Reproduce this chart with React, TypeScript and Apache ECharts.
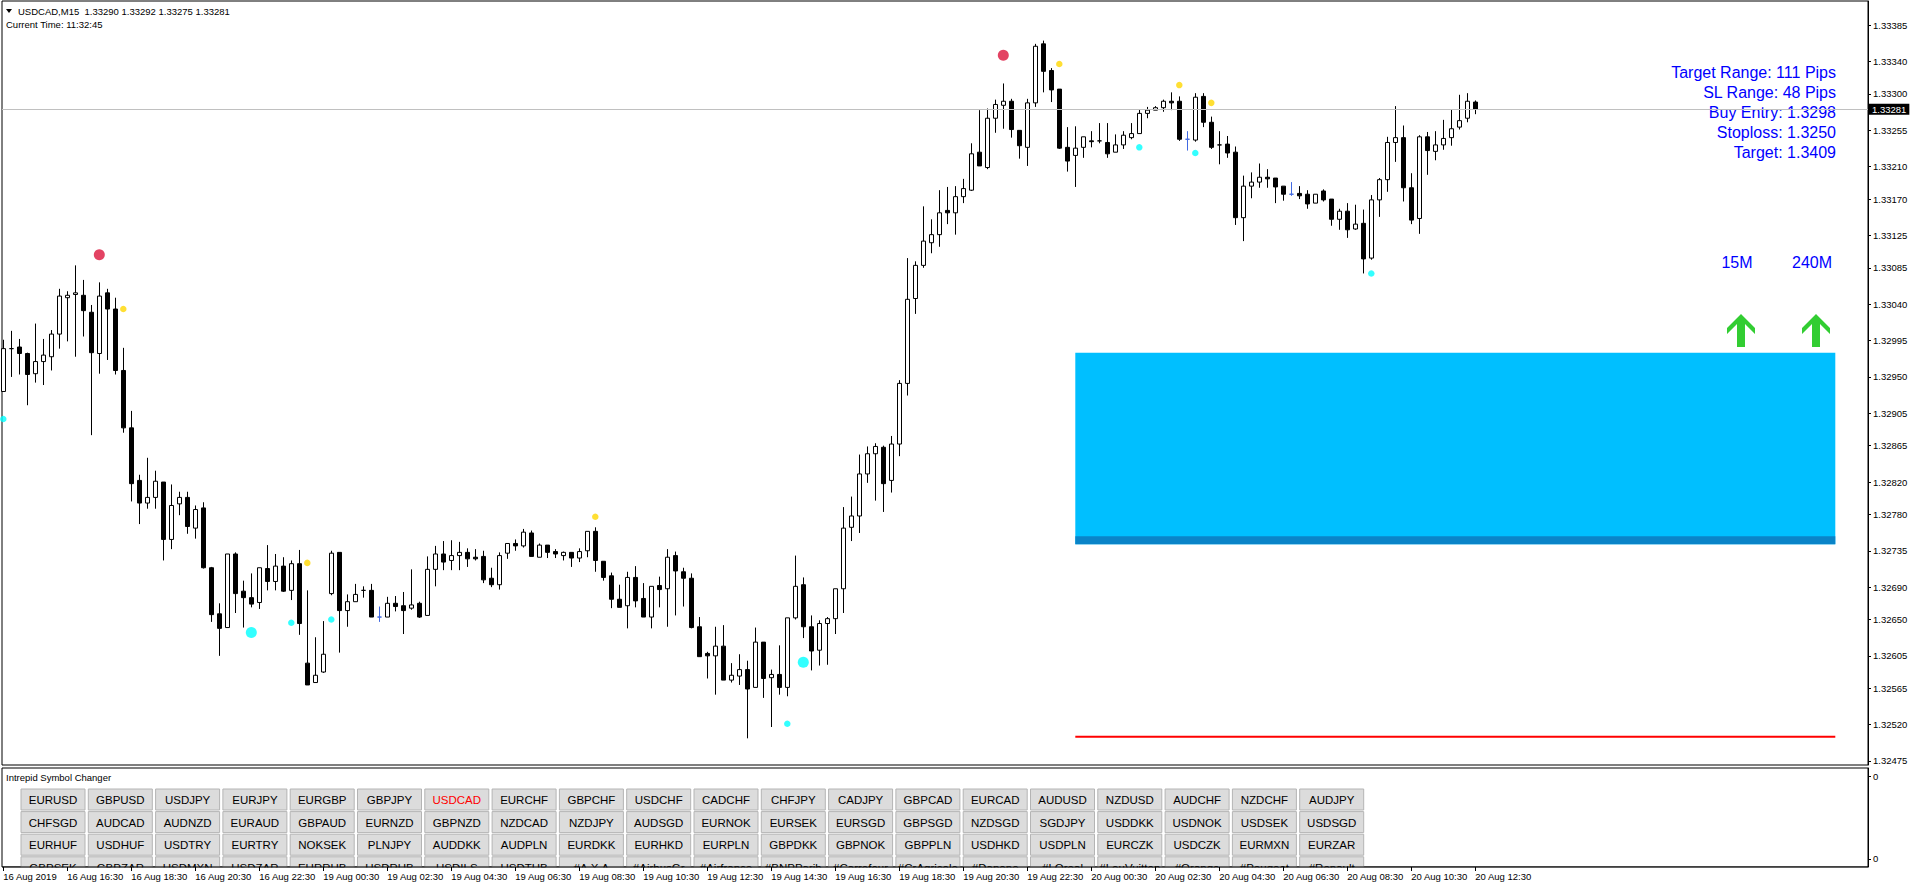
import React, { useEffect, useRef } from "react";
import * as echarts from "echarts";

// ---------------- data ----------------
const SYMBOL = "USDCAD";
const TIMEFRAME = "M15";
const CURRENT_TIME = "11:32:45";

const opens = [
  1.32932, 1.32985, 1.32987, 1.32979, 1.32954, 1.32969, 1.32975, 1.33003, 1.33048, 1.33052,
  1.33051, 1.3303, 1.32979, 1.33054, 1.33034, 1.32958, 1.32887, 1.32822, 1.32794, 1.32801,
  1.3282, 1.32749, 1.32793, 1.32801, 1.32763, 1.32788, 1.32714, 1.32657, 1.3264, 1.32731,
  1.32685, 1.32677, 1.32671, 1.32713, 1.32697, 1.32716, 1.32686, 1.32719, 1.32596, 1.32572,
  1.32585, 1.32682, 1.32733, 1.32661, 1.32672, 1.32686, 1.32686, 1.32653, 1.32653, 1.3267,
  1.32667, 1.32664, 1.3267, 1.32655, 1.32712, 1.32731, 1.32723, 1.32729, 1.32733, 1.32727,
  1.32728, 1.32701, 1.32693, 1.32732, 1.32744, 1.32741, 1.32757, 1.32727, 1.32742, 1.32734,
  1.32729, 1.32733, 1.32726, 1.32735, 1.32759, 1.32722, 1.32704, 1.32675, 1.32667, 1.32702,
  1.32676, 1.32653, 1.32692, 1.32688, 1.32729, 1.32709, 1.32701, 1.32641, 1.32608, 1.32605,
  1.32617, 1.32575, 1.3258, 1.32588, 1.32566, 1.32622, 1.32578, 1.32582, 1.32566, 1.32652,
  1.32693, 1.32641, 1.32612, 1.32645, 1.32651, 1.32688, 1.32764, 1.32778, 1.3283, 1.32855,
  1.32863, 1.32822, 1.32867, 1.32942, 1.33047, 1.33088, 1.33116, 1.33126, 1.33156, 1.33153,
  1.33173, 1.33181, 1.33228, 1.33209, 1.3327, 1.33286, 1.33291, 1.33255, 1.33234, 1.33289,
  1.33362, 1.33329, 1.33306, 1.33234, 1.33224, 1.33234, 1.33242, 1.33242, 1.3324, 1.33228,
  1.33237, 1.33246, 1.33251, 1.33276, 1.3328, 1.33283, 1.33291, 1.33291, 1.33244, 1.33243,
  1.33297, 1.33265, 1.33237, 1.33238, 1.33228, 1.33147, 1.33186, 1.33191, 1.33197, 1.33196,
  1.33186, 1.33176, 1.33177, 1.33176, 1.33165, 1.3318, 1.3317, 1.33145, 1.33155, 1.33133,
  1.3314, 1.33097, 1.33169, 1.33194, 1.3324, 1.33246, 1.33184, 1.33146, 1.33247, 1.33229,
  1.33237, 1.33246, 1.33259, 1.3327, 1.3329,
];

const highs = [
  1.32996, 1.33007, 1.32997, 1.3298, 1.33016, 1.32997, 1.33008, 1.33059, 1.33056, 1.33088,
  1.3307, 1.33039, 1.33067, 1.33059, 1.33048, 1.32986, 1.32908, 1.32829, 1.3285, 1.32834,
  1.3282, 1.32817, 1.32808, 1.32808, 1.32791, 1.32795, 1.32715, 1.3267, 1.32731, 1.32733,
  1.32698, 1.32707, 1.32714, 1.32742, 1.32731, 1.32727, 1.32723, 1.32736, 1.32686, 1.32628,
  1.32648, 1.32735, 1.32733, 1.32681, 1.32694, 1.32691, 1.32694, 1.32666, 1.32678, 1.32679,
  1.32684, 1.32712, 1.32672, 1.32728, 1.32741, 1.32747, 1.32748, 1.32746, 1.32738, 1.32737,
  1.32735, 1.32714, 1.32733, 1.32744, 1.32749, 1.32762, 1.3276, 1.32744, 1.32742, 1.32737,
  1.32734, 1.32733, 1.32738, 1.32759, 1.32764, 1.32722, 1.32708, 1.32693, 1.32709, 1.32716,
  1.32695, 1.32691, 1.32703, 1.32737, 1.32734, 1.32714, 1.32707, 1.32653, 1.3261, 1.32641,
  1.32643, 1.32596, 1.32607, 1.32599, 1.3264, 1.32622, 1.32588, 1.32618, 1.32652, 1.32729,
  1.32702, 1.32655, 1.32649, 1.32653, 1.32688, 1.32789, 1.32802, 1.32854, 1.32864, 1.32868,
  1.32865, 1.32877, 1.32946, 1.33097, 1.33093, 1.33161, 1.33145, 1.33181, 1.33185, 1.33186,
  1.33195, 1.33239, 1.3328, 1.33282, 1.33293, 1.33313, 1.33294, 1.33255, 1.33294, 1.33362,
  1.33366, 1.33332, 1.33306, 1.33259, 1.3326, 1.33247, 1.33254, 1.33264, 1.33264, 1.3325,
  1.33254, 1.33264, 1.33281, 1.33284, 1.33285, 1.33293, 1.33302, 1.33297, 1.33254, 1.33301,
  1.33301, 1.33272, 1.33254, 1.33248, 1.33235, 1.33199, 1.33203, 1.33214, 1.33207, 1.33196,
  1.33186, 1.33191, 1.33186, 1.33181, 1.33176, 1.33182, 1.3317, 1.33158, 1.33165, 1.33163,
  1.33157, 1.33175, 1.33196, 1.33247, 1.33285, 1.33261, 1.33202, 1.33249, 1.33253, 1.33254,
  1.33268, 1.33281, 1.33299, 1.33301, 1.33292,
];

const lows = [
  1.32932, 1.3295, 1.32953, 1.32915, 1.32943, 1.3294, 1.32958, 1.32985, 1.32994, 1.32975,
  1.33, 1.32878, 1.32954, 1.32971, 1.32953, 1.32881, 1.32796, 1.32768, 1.32787, 1.32787,
  1.32723, 1.32737, 1.32779, 1.32756, 1.3275, 1.32713, 1.32647, 1.32605, 1.3264, 1.32658,
  1.3264, 1.32665, 1.32663, 1.32686, 1.32686, 1.32684, 1.32674, 1.32631, 1.32569, 1.32572,
  1.32584, 1.3268, 1.32609, 1.32641, 1.32672, 1.32677, 1.32653, 1.32647, 1.32653, 1.3266,
  1.32632, 1.32662, 1.32652, 1.32655, 1.32691, 1.32711, 1.32711, 1.32711, 1.32715, 1.32723,
  1.32695, 1.3269, 1.32687, 1.32725, 1.32735, 1.32739, 1.32728, 1.32727, 1.32726, 1.32726,
  1.32723, 1.32715, 1.32721, 1.32727, 1.32709, 1.32698, 1.32664, 1.32665, 1.32639, 1.32665,
  1.32653, 1.32639, 1.32665, 1.32641, 1.32655, 1.32666, 1.32639, 1.32604, 1.32577, 1.32557,
  1.32575, 1.32572, 1.32569, 1.32503, 1.32566, 1.32553, 1.32517, 1.32557, 1.32555, 1.3265,
  1.32627, 1.32587, 1.32593, 1.32594, 1.32632, 1.32658, 1.32747, 1.32757, 1.32819, 1.32797,
  1.32783, 1.32807, 1.32852, 1.32927, 1.33028, 1.33085, 1.33103, 1.33111, 1.33139, 1.33126,
  1.33165, 1.3318, 1.33211, 1.33207, 1.33252, 1.33257, 1.33246, 1.3322, 1.33211, 1.33284,
  1.33302, 1.3329, 1.33232, 1.33204, 1.33185, 1.33221, 1.33234, 1.33239, 1.33221, 1.33228,
  1.33232, 1.33244, 1.33251, 1.3327, 1.3328, 1.33278, 1.3328, 1.33242, 1.3323, 1.33241,
  1.33259, 1.33232, 1.33213, 1.33221, 1.33138, 1.33118, 1.33171, 1.33184, 1.33184, 1.33165,
  1.33168, 1.33174, 1.3317, 1.33158, 1.33165, 1.33167, 1.33137, 1.33132, 1.33122, 1.33132,
  1.33078, 1.33095, 1.33148, 1.33179, 1.33216, 1.33167, 1.33139, 1.33127, 1.332, 1.33218,
  1.33231, 1.33236, 1.33256, 1.33265, 1.33275,
];

const closes = [
  1.32985, 1.32985, 1.32979, 1.32953, 1.32969, 1.32977, 1.33003, 1.3305, 1.33051, 1.33054,
  1.33032, 1.3298, 1.3305, 1.33034, 1.32958, 1.32887, 1.32818, 1.32794, 1.32801, 1.32821,
  1.32749, 1.32791, 1.32801, 1.32765, 1.32786, 1.32714, 1.32656, 1.32639, 1.32731, 1.32682,
  1.32677, 1.32669, 1.32714, 1.32697, 1.32716, 1.32685, 1.32719, 1.32645, 1.32569, 1.32581,
  1.32607, 1.32732, 1.32661, 1.32672, 1.32681, 1.32686, 1.32653, 1.32653, 1.3267, 1.32666,
  1.32661, 1.32668, 1.32653, 1.32712, 1.32731, 1.32721, 1.32729, 1.32733, 1.32725, 1.32725,
  1.32699, 1.32693, 1.32729, 1.32744, 1.32741, 1.32758, 1.32728, 1.32742, 1.32733, 1.32731,
  1.32733, 1.32726, 1.32734, 1.32759, 1.32723, 1.32702, 1.32675, 1.32665, 1.32702, 1.32673,
  1.32653, 1.32691, 1.32687, 1.32727, 1.3271, 1.32701, 1.3264, 1.32604, 1.32605, 1.32617,
  1.32575, 1.32581, 1.32588, 1.32564, 1.32622, 1.32577, 1.32582, 1.32566, 1.32652, 1.32691,
  1.32641, 1.32611, 1.32645, 1.32651, 1.32688, 1.32763, 1.32778, 1.3283, 1.32855, 1.32864,
  1.32818, 1.32867, 1.32942, 1.33046, 1.33088, 1.33118, 1.33126, 1.33153, 1.33153, 1.33173,
  1.33183, 1.33226, 1.33211, 1.3327, 1.33287, 1.33291, 1.33256, 1.33236, 1.33289, 1.33359,
  1.33328, 1.33305, 1.33233, 1.33217, 1.33233, 1.33247, 1.33241, 1.33242, 1.33226, 1.33237,
  1.33249, 1.33251, 1.33276, 1.3328, 1.33283, 1.33291, 1.33289, 1.33244, 1.33244, 1.33296,
  1.33265, 1.33234, 1.33237, 1.33227, 1.33147, 1.33186, 1.33191, 1.33197, 1.33195, 1.33185,
  1.33176, 1.33176, 1.33174, 1.33164, 1.33176, 1.33169, 1.33145, 1.33155, 1.33132, 1.33139,
  1.33096, 1.33169, 1.33194, 1.3324, 1.33246, 1.33184, 1.33144, 1.33247, 1.3323, 1.33237,
  1.33245, 1.33257, 1.33267, 1.33291, 1.33281,
];

// bars drawn as blue crosses
const blueDojiBars = [47, 148, 161];

// time axis
const tickBars = [0, 8, 16, 24, 32, 40, 48, 56, 64, 72, 80, 88, 96, 104, 112, 120, 128, 136, 144, 152, 160, 168, 176, 184];
const tickLabels = [
  "16 Aug 2019", "16 Aug 16:30", "16 Aug 18:30", "16 Aug 20:30", "16 Aug 22:30",
  "19 Aug 00:30", "19 Aug 02:30", "19 Aug 04:30", "19 Aug 06:30", "19 Aug 08:30", "19 Aug 10:30",
  "19 Aug 12:30", "19 Aug 14:30", "19 Aug 16:30", "19 Aug 18:30", "19 Aug 20:30", "19 Aug 22:30",
  "20 Aug 00:30", "20 Aug 02:30", "20 Aug 04:30", "20 Aug 06:30", "20 Aug 08:30", "20 Aug 10:30", "20 Aug 12:30",
];

// price axis labels
const priceTicks = [
  1.33385, 1.3334, 1.333, 1.33255, 1.3321, 1.3317, 1.33125, 1.33085, 1.3304, 1.32995, 1.3295,
  1.32905, 1.32865, 1.3282, 1.3278, 1.32735, 1.3269, 1.3265, 1.32605, 1.32565, 1.3252, 1.32475,
];

// indicator dots [bar, price]
const redDots = [[12, 1.33101], [125, 1.33348]];
const goldDots = [[15, 1.33034], [38, 1.3272], [74, 1.32777], [132, 1.33337], [147, 1.33311], [151, 1.33289]];
const cyanSmallDots = [[0, 1.32898], [36, 1.32646], [41, 1.3265], [98, 1.32521], [142, 1.33234], [149, 1.33227], [171, 1.33078]];
const cyanBigDots = [[31, 1.32634], [100, 1.32597]];

// trade zone
const zoneFromBar = 134;
const zoneToBar = 229;
const buyEntry = 1.3298;
const zoneBottom = 1.32743;
const zoneStripTop = 1.32753;
const stopLevel = 1.32505;

const infoLines = ["Target Range: 111 Pips", "SL Range: 48 Pips", "Buy Entry: 1.3298", "Stoploss: 1.3250", "Target: 1.3409"];
const trendFrames = ["15M", "240M"];

const buttonRows = [
  ["EURUSD", "GBPUSD", "USDJPY", "EURJPY", "EURGBP", "GBPJPY", "USDCAD", "EURCHF", "GBPCHF", "USDCHF", "CADCHF", "CHFJPY", "CADJPY", "GBPCAD", "EURCAD", "AUDUSD", "NZDUSD", "AUDCHF", "NZDCHF", "AUDJPY"],
  ["CHFSGD", "AUDCAD", "AUDNZD", "EURAUD", "GBPAUD", "EURNZD", "GBPNZD", "NZDCAD", "NZDJPY", "AUDSGD", "EURNOK", "EURSEK", "EURSGD", "GBPSGD", "NZDSGD", "SGDJPY", "USDDKK", "USDNOK", "USDSEK", "USDSGD"],
  ["EURHUF", "USDHUF", "USDTRY", "EURTRY", "NOKSEK", "PLNJPY", "AUDDKK", "AUDPLN", "EURDKK", "EURHKD", "EURPLN", "GBPDKK", "GBPNOK", "GBPPLN", "USDHKD", "USDPLN", "EURCZK", "USDCZK", "EURMXN", "EURZAR"],
  ["GBPSEK", "GBPZAR", "USDMXN", "USDZAR", "EURRUB", "USDRUB", "USDILS", "USDTHB", "#A.X.A", "#AirbusGr", "#Airfrance", "#BNPParibas", "#Carrefour", "#CrAgricole", "#Danone", "#LOreal", "#LouVuitton", "#Orange", "#Peugeot", "#Renault"],
];
const activeSymbol = "USDCAD";

// ---------------- layout ----------------
const W = 1913;
const H = 887;
const GRID_LEFT = 2;
const GRID_RIGHT_X = 1868;
const MAIN_TOP = 1;
const MAIN_BOTTOM = 765;
const SUB_TOP = 768;
const SUB_BOTTOM = 867;
const X_MIN = -0.1625;
const X_MAX = 233.0875;
const Y_MIN = 1.3247;
const Y_MAX = 1.33415;
const FONT = '"Liberation Sans", Arial, sans-serif';
const BLUE_TEXT = "#0000FF";
const DOJI_BLUE = "#4169E1";

const BTN_X0 = 21;
const BTN_PX = 67.3;
const BTN_W = 64;
const BTN_Y0 = 789;
const BTN_PY = 22.6;
const BTN_H = 21;

function buildOption() {
  const last = closes.length - 1;
  const currentPrice = closes[last];

  const candleData = opens.map((o, i) => {
    const v = [i, o, closes[i], lows[i], highs[i]];
    if (blueDojiBars.includes(i)) {
      return {
        value: v,
        itemStyle: { color: DOJI_BLUE, color0: DOJI_BLUE, borderColor: DOJI_BLUE, borderColor0: DOJI_BLUE, borderColorDoji: DOJI_BLUE },
      };
    }
    return v;
  });

  const zoneData = [
    [zoneFromBar, zoneToBar, buyEntry, zoneBottom],
    [zoneFromBar, zoneToBar, zoneStripTop, zoneBottom],
  ];
  const zoneColors = ["#00BFFF", "#0A84C8"];

  const elements: any[] = [];
  // header
  elements.push({ type: "polygon", shape: { points: [[6, 9], [12, 9], [9, 13]] }, style: { fill: "#000" }, z: 5 });
  const f = (v: number) => v.toFixed(5);
  elements.push({
    type: "text", x: 18, y: 11, z: 5,
    style: { text: `${SYMBOL},${TIMEFRAME}  ${f(opens[last])} ${f(highs[last])} ${f(lows[last])} ${f(closes[last])}`, fill: "#000", fontSize: 9.5, fontFamily: FONT, align: "left", verticalAlign: "middle", textAlign: "left", textVerticalAlign: "middle" },
  });
  elements.push({
    type: "text", x: 6, y: 24, z: 5,
    style: { text: `Current Time: ${CURRENT_TIME}`, fill: "#000", fontSize: 9.5, fontFamily: FONT, align: "left", verticalAlign: "middle", textAlign: "left", textVerticalAlign: "middle" },
  });
  // info block
  infoLines.forEach((t, k) => {
    elements.push({
      type: "text", x: 1836, y: 72.5 + 20 * k, z: 5,
      style: { text: t, fill: BLUE_TEXT, fontSize: 16, fontFamily: FONT, align: "right", verticalAlign: "middle", textAlign: "right", textVerticalAlign: "middle" },
    });
  });
  const trendX = [1737, 1812];
  const arrowX = [1741, 1816];
  trendFrames.forEach((t, k) => {
    elements.push({
      type: "text", x: trendX[k], y: 262, z: 5,
      style: { text: t, fill: BLUE_TEXT, fontSize: 16, fontFamily: FONT, align: "center", verticalAlign: "middle", textAlign: "center", textVerticalAlign: "middle" },
    });
    const cx = arrowX[k];
    const ty = 314;
    const pts = [[0, 0], [14, 14], [14, 20], [4, 10], [4, 33], [-4, 33], [-4, 10], [-14, 20], [-14, 14]].map(([dx, dy]) => [cx + dx, ty + dy]);
    elements.push({ type: "polygon", shape: { points: pts }, style: { fill: "#32CD32" }, z: 5 });
  });
  // sub window
  elements.push({
    type: "text", x: 6, y: 777, z: 5,
    style: { text: "Intrepid Symbol Changer", fill: "#000", fontSize: 9.5, fontFamily: FONT, align: "left", verticalAlign: "middle", textAlign: "left", textVerticalAlign: "middle" },
  });
  buttonRows.forEach((row, r) => {
    row.forEach((name, c) => {
      const x = BTN_X0 + c * BTN_PX;
      const y = BTN_Y0 + r * BTN_PY;
      const h = Math.min(BTN_H, SUB_BOTTOM - y);
      elements.push({ type: "rect", shape: { x, y, width: BTN_W, height: h }, style: { fill: "#DCDCDC", stroke: "#B4B4B4", lineWidth: 1 }, z: 1 });
      elements.push({
        type: "text", x: x + BTN_W / 2, y: y + BTN_H / 2 + 0.5, z: 1,
        style: {
          text: name, fill: name === activeSymbol ? "#FF0000" : "#000", fontSize: 11.5, fontFamily: FONT,
          align: "center", verticalAlign: "middle", textAlign: "center", textVerticalAlign: "middle",
          width: BTN_W - 1, overflow: "truncate", ellipsis: "",
        },
      });
    });
  });
  // white cover below the sub window (clips the last button row)
  elements.push({ type: "rect", shape: { x: 0, y: SUB_BOTTOM + 0.5, width: W, height: 30 }, style: { fill: "#fff" }, z: 2 });
  elements.push({ type: "line", shape: { x1: GRID_LEFT, y1: SUB_BOTTOM, x2: GRID_RIGHT_X, y2: SUB_BOTTOM }, style: { stroke: "#000", lineWidth: 1 }, z: 3 });

  const axisText = { color: "#000", fontSize: 9.5, fontFamily: FONT };

  return {
    animation: false,
    backgroundColor: "#fff",
    graphic: { elements },
    grid: [
      { left: GRID_LEFT, top: MAIN_TOP, width: GRID_RIGHT_X - GRID_LEFT, height: MAIN_BOTTOM - MAIN_TOP, show: true, borderColor: "#000", borderWidth: 1, backgroundColor: "transparent", outerBoundsMode: "none", containLabel: false },
      { left: GRID_LEFT, top: SUB_TOP, width: GRID_RIGHT_X - GRID_LEFT, height: SUB_BOTTOM - SUB_TOP, show: true, borderColor: "#000", borderWidth: 1, backgroundColor: "transparent", outerBoundsMode: "none", containLabel: false },
    ],
    xAxis: [
      {
        type: "value", gridIndex: 0, min: X_MIN, max: X_MAX,
        axisLine: { show: false, onZero: false }, axisTick: { show: false }, axisLabel: { show: false }, splitLine: { show: false },
      },
      {
        type: "value", gridIndex: 1, min: X_MIN, max: X_MAX, position: "bottom", z: 10,
        axisLine: { show: false, onZero: false },
        axisTick: { show: true, customValues: tickBars, length: 4, inside: false, lineStyle: { color: "#000", width: 1 } },
        axisLabel: {
          show: true, customValues: tickBars, align: "left", margin: 4, ...axisText,
          formatter: (v: number) => {
            const k = tickBars.indexOf(Math.round(v));
            return k >= 0 ? tickLabels[k] : "";
          },
        },
        splitLine: { show: false },
      },
    ],
    yAxis: [
      {
        type: "value", gridIndex: 0, position: "right", min: Y_MIN, max: Y_MAX, z: 10,
        axisLine: { show: true, onZero: false, lineStyle: { color: "#000", width: 1 } },
        axisTick: { show: true, customValues: priceTicks, length: 3, inside: false, lineStyle: { color: "#000" } },
        axisLabel: { show: true, customValues: priceTicks, margin: 5, ...axisText, formatter: (v: number) => v.toFixed(5) },
        splitLine: { show: false },
      },
      {
        type: "value", gridIndex: 1, position: "right", min: -0.1, max: 1.1, z: 10,
        axisLine: { show: true, onZero: false, lineStyle: { color: "#000", width: 1 } },
        axisTick: { show: true, customValues: [0, 1], length: 3, lineStyle: { color: "#000" } },
        axisLabel: { show: true, customValues: [0, 1], margin: 5, ...axisText, formatter: () => "0" },
        splitLine: { show: false },
      },
    ],
    series: [
      {
        type: "custom", xAxisIndex: 0, yAxisIndex: 0, z: 1, silent: true,
        data: zoneData,
        renderItem: (params: any, api: any) => {
          const a = api.coord([api.value(0), api.value(2)]);
          const b = api.coord([api.value(1), api.value(3)]);
          return {
            type: "rect",
            shape: { x: a[0], y: a[1], width: b[0] - a[0], height: b[1] - a[1] },
            style: { fill: zoneColors[params.dataIndex] },
          };
        },
      },
      {
        type: "line", xAxisIndex: 0, yAxisIndex: 0, z: 3, silent: true,
        data: [[zoneFromBar, stopLevel], [zoneToBar, stopLevel]],
        symbol: "none", showSymbol: false,
        lineStyle: { color: "#FF0000", width: 2 },
        markLine: {
          silent: true, animation: false, symbol: ["none", "none"], precision: 5,
          lineStyle: { color: "#C0C0C0", width: 1, type: "solid" },
          label: {
            show: true, position: "end", distance: 1, formatter: currentPrice.toFixed(5),
            color: "#fff", backgroundColor: "#000", padding: [1, 3, 0, 3], fontSize: 9.5, fontFamily: FONT,
          },
          data: [{ yAxis: currentPrice }],
        },
      },
      {
        type: "candlestick", xAxisIndex: 0, yAxisIndex: 0, layout: "horizontal", z: 2,
        barWidth: 5,
        data: candleData,
        itemStyle: { color: "#FFFFFF", color0: "#000000", borderColor: "#000000", borderColor0: "#000000", borderColorDoji: "#000000", borderWidth: 1 },
      },
      {
        type: "scatter", xAxisIndex: 0, yAxisIndex: 0, z: 4, silent: true,
        data: redDots, symbol: "circle", symbolSize: 11, itemStyle: { color: "#DC143C" },
      },
      {
        type: "scatter", xAxisIndex: 0, yAxisIndex: 0, z: 4, silent: true,
        data: goldDots, symbol: "circle", symbolSize: 6.5, itemStyle: { color: "#FFD700" },
      },
      {
        type: "scatter", xAxisIndex: 0, yAxisIndex: 0, z: 4, silent: true,
        data: cyanSmallDots, symbol: "circle", symbolSize: 6.5, itemStyle: { color: "#00FFFF" },
      },
      {
        type: "scatter", xAxisIndex: 0, yAxisIndex: 0, z: 4, silent: true,
        data: cyanBigDots, symbol: "circle", symbolSize: 11, itemStyle: { color: "#00FFFF" },
      },
    ],
  };
}

export default function App() {
  const ref = useRef<HTMLDivElement>(null);
  useEffect(() => {
    if (!ref.current) return;
    const chart = echarts.init(ref.current, null, { renderer: "svg", width: W, height: H });
    chart.setOption(buildOption() as any);
    return () => {
      chart.dispose();
    };
  }, []);
  return (
    <div
      ref={ref}
      style={{ position: "fixed", left: 0, top: 0, width: W, height: H, background: "#fff" }}
    />
  );
}
